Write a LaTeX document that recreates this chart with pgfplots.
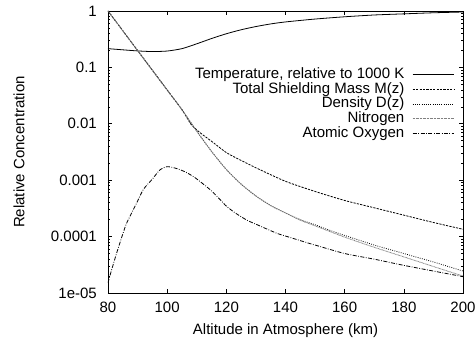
\documentclass[border=0pt]{standalone}
\usepackage{pgfplots}
\pgfplotsset{compat=1.18}
\usepackage{fontspec}
\setmainfont{Liberation Sans}
\begin{document}
\fontsize{15}{16}\selectfont
\begin{tikzpicture}
\begin{axis}[
  ymode=log,
  scale only axis, width=355pt, height=282pt,
  xmin=80, xmax=200, ymin=1e-5, ymax=1,
  xtick={80,100,120,140,160,180,200},
  xticklabels={80,100,120,140,160,180,200},
  ytick={1e-5,1e-4,1e-3,1e-2,1e-1,1},
  yticklabels={1e-05,0.0001,0.001,0.01,0.1,1},
  minor ytick={2e-5,3e-5,4e-5,5e-5,6e-5,7e-5,8e-5,9e-5,
               2e-4,3e-4,4e-4,5e-4,6e-4,7e-4,8e-4,9e-4,
               2e-3,3e-3,4e-3,5e-3,6e-3,7e-3,8e-3,9e-3,
               2e-2,3e-2,4e-2,5e-2,6e-2,7e-2,8e-2,9e-2,
               0.2,0.3,0.4,0.5,0.6,0.7,0.8,0.9},
  tick align=inside, major tick length=4pt, minor tick length=2pt,
  tick style={black, line width=0.6pt},
  axis line style={line width=0.8pt},
  yticklabel style={inner sep=0pt, xshift=-11pt},
  xticklabel style={inner sep=0pt, yshift=-9pt},
  xlabel={Altitude in Atmosphere (km)},
  ylabel={Relative Concentration},
  xlabel style={at={(axis description cs:0.5,-0.135)}, anchor=center},
  ylabel style={at={(axis description cs:-0.2507,0.5)}, anchor=center},
  legend cell align=right,
  legend plot pos=right,
  legend image code/.code={\draw[#1] (0pt,0pt) -- (41pt,0pt);},
  legend style={draw=none, fill=none, at={(rel axis cs:0.975,0.798)}, anchor=north east,
    inner sep=0pt, outer sep=0pt, row sep=1.2pt, column sep=8pt,
    nodes={inner sep=0pt, text height=10.5pt, text depth=3pt}},
  every axis plot/.append style={line width=0.8pt, black, smooth, tension=0.4},
]
% Temperature relative to 1000 K
\addplot[solid] coordinates {
 (80,0.215) (85,0.205) (90,0.196) (95,0.191) (100,0.195) (105,0.215) (110,0.262)
 (115,0.325) (120,0.395) (125,0.465) (130,0.53) (135,0.59) (140,0.64) (150,0.72)
 (160,0.79) (170,0.85) (180,0.89) (190,0.93) (200,0.96)};
\addlegendentry{Temperature, relative to 1000 K}
% Total shielding mass
\addplot[dash pattern=on 2.2pt off 1.2pt] coordinates {
 (80,1) (85,0.447) (90,0.1995) (95,0.0891) (100,0.0398) (105,0.0178) (108,0.0099)
 (110,0.0078) (112,0.0064) (115,0.0049) (120,0.00309) (125,0.00224) (130,0.00166)
 (140,0.000955) (150,0.000631) (160,0.000437) (170,0.000324) (180,0.00024)
 (190,0.000178) (200,0.000135)};
\addlegendentry{Total Shielding Mass M(z)}
% Density
\addplot[dash pattern=on 0.8pt off 1.4pt] coordinates {
 (80,1) (85,0.447) (90,0.1995) (95,0.0891) (100,0.0398) (105,0.0178) (110,0.00741)
 (115,0.00324) (120,0.00155) (125,0.000851) (130,0.000525) (135,0.000355)
 (140,0.000263) (145,0.0002) (150,0.000162) (155,0.000129) (160,0.000105)
 (170,7.08e-5) (180,5.01e-5) (190,3.55e-5) (200,2.45e-5)};
\addlegendentry{Density D(z)}
% Nitrogen
\addplot[gray, dash pattern=on 0.8pt off 0.6pt] coordinates {
 (80,1) (85,0.447) (90,0.1995) (95,0.0891) (100,0.0398) (105,0.0178) (110,0.00741)
 (115,0.00324) (120,0.00155) (125,0.000851) (130,0.000525) (135,0.000355)
 (140,0.000263) (145,0.000195) (150,0.000155) (155,0.000123) (160,9.77e-5)
 (170,6.46e-5) (180,4.37e-5) (190,2.95e-5) (200,2.0e-5)};
\addlegendentry{Nitrogen}
% Atomic oxygen
\addplot[dash pattern=on 4pt off 1.5pt on 0.8pt off 1.5pt] coordinates {
 (80,1.51e-5) (81,2.34e-5) (83,5.25e-5) (86,1.585e-4) (88,2.63e-4) (90,4.27e-4)
 (92,6.92e-4) (95,1.047e-3) (97.5,1.514e-3) (100,1.738e-3) (103,1.622e-3)
 (106,1.413e-3) (109,1.148e-3) (112,8.71e-4) (115,6.46e-4) (118,4.47e-4)
 (120,3.47e-4) (123,2.63e-4) (127,1.95e-4) (130,1.66e-4) (137,1.148e-4)
 (140,1.023e-4) (148,7.59e-5) (150,7.08e-5) (160,5.01e-5) (170,3.98e-5)
 (180,3.09e-5) (190,2.45e-5) (200,1.95e-5)};
\addlegendentry{Atomic Oxygen}
\end{axis}
\path ([xshift=-108pt,yshift=-54pt]current axis.south west) rectangle ([xshift=13pt,yshift=11pt]current axis.north east);
\end{tikzpicture}
\end{document}
